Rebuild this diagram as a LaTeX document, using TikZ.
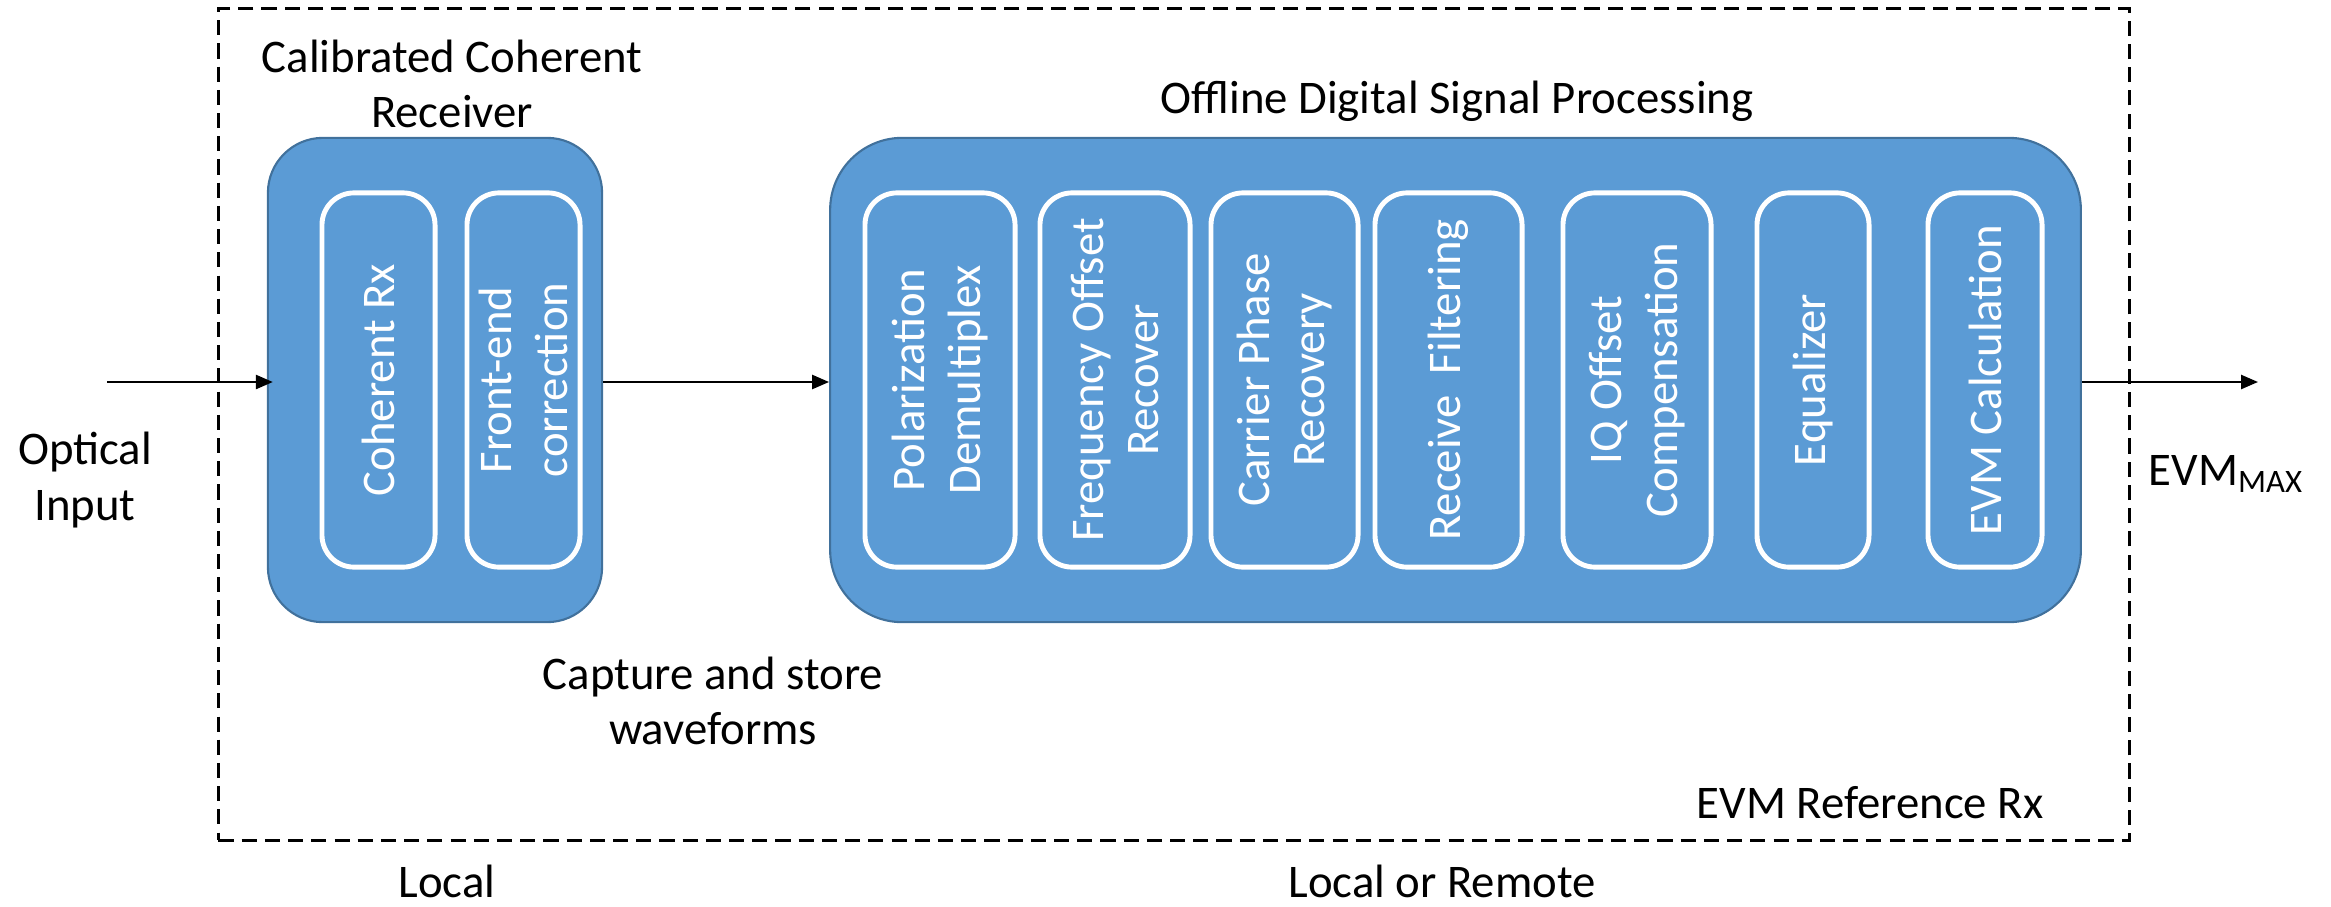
\documentclass[tikz,border=0pt]{standalone}
\usepackage{fontspec}
\setmainfont{Carlito}
\usetikzlibrary{arrows.meta}
\definecolor{boxblue}{HTML}{5B9BD5}
\definecolor{boxedge}{HTML}{41719C}
\begin{document}
\begin{tikzpicture}[x=0.01cm,y=-0.01cm,
  font=\fontsize{13.3}{15.8}\selectfont,
  dashbox/.style={draw=black, line width=0.95pt, dash pattern=on 4.3pt off 2.3pt, minimum width=19.1cm, minimum height=8.31cm, inner sep=0pt},
  group/.style={draw=boxedge, fill=boxblue, line width=0.6pt, inner sep=0pt},
  stage/.style={draw=white, line width=1.4pt, rounded corners=0.32cm, rotate=90, text=white, align=center, minimum width=3.74cm, inner sep=0pt},
  lbl/.style={align=center, text=black, inner sep=0pt},
  arr/.style={-{Triangle[length=0.17cm,width=0.14cm]}, line width=0.7pt}
]
\useasboundingbox (0,0) rectangle (2331,906);
\node[dashbox] (refbox) at (1174,424.5) {};
\node[group, rounded corners=0.55cm, minimum width=3.34cm, minimum height=4.84cm] (rx) at (435,380) {};
\node[group, rounded corners=0.72cm, minimum width=12.5cm, minimum height=4.84cm] (dsp) at (1455.5,380) {};
\node[stage, minimum height=1.13cm] (crx) at (378.5,380) {Coherent Rx};
\node[stage, minimum height=1.13cm] (fec) at (523.5,380) {Front-end\\correction};
\node[stage, minimum height=1.5cm] (pol) at (940,380) {Polarization\\Demultiplex};
\node[stage, minimum height=1.5cm] (fo) at (1115,380) {Frequency Offset\\Recover};
\node[stage, minimum height=1.47cm] (cpr) at (1284.5,380) {Carrier Phase\\Recovery};
\node[stage, minimum height=1.47cm] (rf) at (1448.5,380) {Receive\ \ Filtering};
\node[stage, minimum height=1.48cm] (iq) at (1637,380) {IQ Offset\\Compensation};
\node[stage, minimum height=1.12cm] (eq) at (1813,380) {Equalizer};
\node[stage, minimum height=1.14cm] (evm) at (1985,380) {EVM Calculation};
\node[lbl] (ccr) at (452,84) {Calibrated Coherent\\Receiver};
\node[lbl] (odsp) at (1457,101) {Offline Digital Signal Processing};
\node[lbl] (opt) at (85,480) {Optical\\Input};
\node[lbl] (cap) at (713,701) {Capture and store\\waveforms};
\node[lbl] (evmref) at (1870,803) {EVM Reference Rx};
\node[lbl, anchor=base] (loc) at (447,897) {Local};
\node[lbl, anchor=base] (lor) at (1442,897) {Local or Remote};
\node[lbl, anchor=west] (evmmax) at (2148,474) {EVM\textsubscript{MAX}};
\coordinate (inp) at (107,382);
\coordinate (outp) at (2258,382);
\draw[arr, shorten >=-0.06cm] (inp) -- (rx.west |- inp);
\draw[arr] (rx.east |- inp) -- (dsp.west |- inp);
\draw[arr] (dsp.east |- outp) -- (outp);
\end{tikzpicture}
\end{document}
